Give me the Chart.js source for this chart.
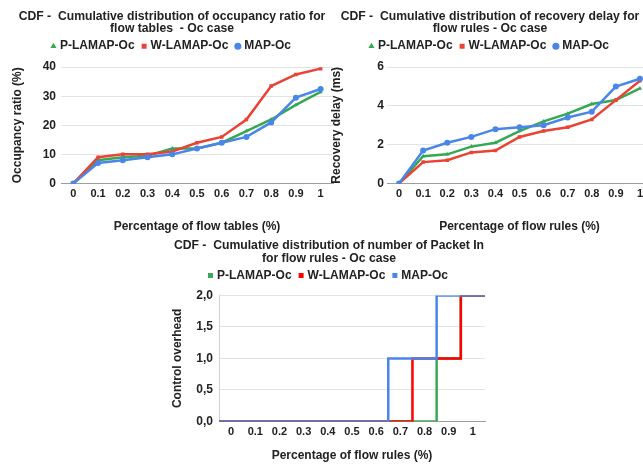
<!DOCTYPE html>
<html><head><meta charset="utf-8">
<script src="https://cdn.jsdelivr.net/npm/chart.js@4.4.1/dist/chart.umd.min.js"></script>
<style>
html,body{margin:0;padding:0;background:#fff;overflow:hidden;width:643px;height:464px}
.box{position:absolute}
</style></head><body>
<div class="box" style="left:0;top:0;width:345px;height:236px"><canvas id="c1"></canvas></div>
<div class="box" style="left:326px;top:0;width:330px;height:236px"><canvas id="c2"></canvas></div>
<div class="box" style="left:160px;top:232px;width:330px;height:232px"><canvas id="c3"></canvas></div>
<script>
// ---- data ----
const xCategories = ['0','0.1','0.2','0.3','0.4','0.5','0.6','0.7','0.8','0.9','1'];
const seriesNames = ['P-LAMAP-Oc','W-LAMAP-Oc','MAP-Oc'];

const occupancyP = [0, 8, 9, 9.5, 12, 12, 14, 18, 22, 27, 31.5];
const occupancyW = [0, 9, 10, 10, 11, 14, 16, 22, 33.5, 37.5, 39.5];
const occupancyM = [0, 7, 8, 9, 10, 12, 14, 16, 21, 29.5, 32.5];

const recoveryP = [0, 1.4, 1.5, 1.9, 2.1, 2.7, 3.2, 3.6, 4.1, 4.3, 4.9];
const recoveryW = [0, 1.1, 1.2, 1.6, 1.7, 2.4, 2.7, 2.9, 3.3, 4.3, 5.3];
const recoveryM = [0, 1.7, 2.1, 2.4, 2.8, 2.9, 3.0, 3.4, 3.7, 5.0, 5.4];

const packetStepX = [-0.05, 0.65, 0.75, 0.85, 0.95, 1.05];
const packetP = [0, 0, 0, 1, 2, 2];
const packetW = [0, 0, 1, 1, 2, 2];
const packetM = [0, 1, 1, 2, 2, 2];
const packetTicks = [0, 0.1, 0.2, 0.3, 0.4, 0.5, 0.6, 0.7, 0.8, 0.9, 1];
const packetTickLabels = ['0','0.1','0.2','0.3','0.4','0.5','0.6','0.7','0.8','0.9','1'];

// ---- styles ----
const FONT = "'Liberation Sans', Arial, sans-serif";
const TXT = '#222';
const GREEN = '#34A853', RED = '#EA4335', BLUE = '#4A86E8';
const GREEN3 = '#3AA757', RED3 = '#FF0000', BLUE3 = '#4A86E8';
Chart.defaults.font.family = FONT;
Chart.defaults.color = TXT;

// extra space between legend and plot area
const legendGap = {
  id: 'legendGap',
  beforeLayout(chart, args, opts) {
    const lg = chart.legend;
    if (lg && !lg._gapPatched) {
      const orig = lg.fit;
      lg.fit = function () { orig.call(this); this.height += (opts.extra || 0); };
      lg._gapPatched = true;
    }
  }
};

function titleCfg(lines, padTop, padBottom, lh){
  return {display:true, text:lines, color:TXT, font:{size:12.2, weight:'bold', lineHeight:lh},
    padding:{top:padTop, bottom:padBottom}};
}
function legendCfg(){
  return {display:true, position:'top',
    labels:{usePointStyle:true, boxWidth:1, boxHeight:5, padding:9, color:TXT,
      font:{size:12, weight:'bold'}, sort:(a,b)=>a.datasetIndex-b.datasetIndex}};
}
function mkLine(label, data, color, style, order, r){
  return {label, data, borderColor:color, backgroundColor:color, borderWidth:2.5,
    pointStyle:style, pointRadius:r, pointBorderWidth:0, pointBackgroundColor:color,
    tension:0, order};
}
function catChart(id, series, yMax, yStep, yTitle, xTitle, title, leftPad, rightPad, yTitlePad, yTickPad){
  new Chart(document.getElementById(id), {
    type:'line',
    plugins:[legendGap],
    data:{labels:xCategories, datasets:[
      mkLine(seriesNames[0], series[0], GREEN, 'triangle', 2, 2.5),
      mkLine(seriesNames[1], series[1], RED, 'rect', 1, 2.5),
      mkLine(seriesNames[2], series[2], BLUE, 'circle', 0, 3)
    ]},
    options:{
      responsive:true, maintainAspectRatio:false, animation:false,
      layout:{padding:{top:2, right:rightPad, left:leftPad, bottom:0}},
      plugins:{title:titleCfg(title, 9, -3, 0.95), legend:legendCfg(), legendGap:{extra:5}, tooltip:{enabled:false}},
      scales:{
        x:{type:'category', offset:true, grid:{display:false, drawTicks:false},
          border:{color:'#9e9e9e', width:1},
          ticks:{color:TXT, font:{size:11, weight:'bold'}, padding:4, maxRotation:0, autoSkip:false},
          title:{display:true, text:xTitle, color:TXT, font:{size:12, weight:'bold'}, padding:{top:15, bottom:2}}},
        y:{min:0, max:yMax, ticks:{stepSize:yStep, color:TXT, font:{size:12, weight:'bold'}, padding:yTickPad},
          grid:{color:'#e3e3e3', drawTicks:false}, border:{display:false},
          title:{display:true, text:yTitle, color:TXT, font:{size:12, weight:'bold'}, padding:{top:yTitlePad, bottom:4}},
          afterFit:(s)=>{s.width = 61 - leftPad;}}
      }
    }
  });
}

catChart('c1', [occupancyP, occupancyW, occupancyM], 40, 10, 'Occupancy ratio (%)',
  'Percentage of flow tables (%)',
  ['CDF -  Cumulative distribution of occupancy ratio for', 'flow tables  - Oc case'], 11, 12, -1, 5);
catChart('c2', [recoveryP, recoveryW, recoveryM], 6, 2, 'Recovery delay (ms)',
  'Percentage of flow rules (%)',
  ['CDF -  Cumulative distribution of recovery delay for', 'flow rules - Oc case'], 0, 2, 3, 3);

function stepSet(label, ys, color, order){
  return {label, data: packetStepX.map((x,i)=>({x, y: ys[i]})), borderColor:color, backgroundColor:color,
    borderWidth:2.5, stepped:true, pointRadius:0, pointStyle:'rect', pointBorderWidth:0,
    pointBackgroundColor:color, order};
}
new Chart(document.getElementById('c3'), {
  type:'line',
  plugins:[legendGap],
  data:{datasets:[
    stepSet(seriesNames[0], packetP, GREEN3, 2),
    stepSet(seriesNames[1], packetW, RED3, 1),
    stepSet(seriesNames[2], packetM, BLUE3, 0)
  ]},
  options:{
    responsive:true, maintainAspectRatio:false, animation:false,
    layout:{padding:{top:2, right:5, left:13, bottom:0}},
    plugins:{title:titleCfg(['CDF -  Cumulative distribution of number of Packet In','for flow rules - Oc case'], 6, -4, 1.0),
      legend:legendCfg(), legendGap:{extra:4}, tooltip:{enabled:false}},
    scales:{
      x:{type:'linear', min:-0.05, max:1.05, grid:{display:false, drawTicks:false},
        border:{color:'#9e9e9e', width:1},
        afterBuildTicks:(s)=>{ s.ticks = packetTicks.map(v=>({value:v})); },
        ticks:{color:TXT, font:{size:11, weight:'bold'}, padding:4, maxRotation:0, autoSkip:false,
          callback:(v,i)=>packetTickLabels[i]},
        title:{display:true, text:'Percentage of flow rules (%)', color:TXT, font:{size:12, weight:'bold'}, padding:{top:6, bottom:1}}},
      y:{min:0, max:2, ticks:{stepSize:0.5, color:TXT, font:{size:12, weight:'bold'}, padding:6,
          callback:(v)=>v.toFixed(1).replace('.',',')},
        grid:{color:'#e3e3e3', drawTicks:false}, border:{display:true, color:'#d0d0d0'},
        title:{display:true, text:'Control overhead', color:TXT, font:{size:12, weight:'bold'}, padding:{top:-3, bottom:4}},
        afterFit:(s)=>{s.width = 46;}}
    }
  }
});
</script>
</body></html>
